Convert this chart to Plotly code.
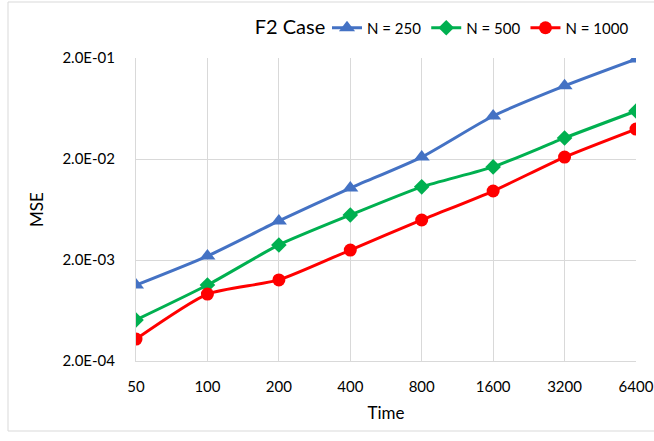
import plotly.graph_objects as go

time_labels = ['50', '100', '200', '400', '800', '1600', '3200', '6400']
mse_n250 = [1.13e-3, 2.19e-3, 4.87e-3, 1.03e-2, 2.09e-2, 5.33e-2, 1.06e-1, 1.95e-1]
mse_n500 = [5.1e-4, 1.13e-3, 2.82e-3, 5.58e-3, 1.06e-2, 1.67e-2, 3.23e-2, 5.97e-2]
mse_n1000 = [3.3e-4, 9.2e-4, 1.27e-3, 2.51e-3, 4.98e-3, 9.64e-3, 2.09e-2, 3.96e-2]
y_tick_vals = [2e-4, 2e-3, 2e-2, 2e-1]
y_tick_text = ['2.0E-04', '2.0E-03', '2.0E-02', '2.0E-01']

FONT = 'Lato, Carlito, Calibri, sans-serif'

W, H = 654, 441
L, R, T, B = 136, 18, 58, 80
PW, PH = W - L - R, H - T - B

fig = go.Figure()

series = [
    ('N = 250', mse_n250, '#4472C4', 'triangle-up', 14),
    ('N = 500', mse_n500, '#00B050', 'diamond', 12),
    ('N = 1000', mse_n1000, '#FF0000', 'circle', 13),
]
for name, vals, color, symbol, size in series:
    fig.add_trace(go.Scatter(
        x=time_labels,
        y=vals,
        name=name,
        mode='lines+markers',
        line=dict(color=color, width=3, shape='spline', smoothing=0.6),
        marker=dict(symbol=symbol, size=size, color=color),
    ))

fig.update_layout(
    width=W,
    height=H,
    margin=dict(l=L, r=R, t=T, b=B, autoexpand=False),
    paper_bgcolor='white',
    plot_bgcolor='white',
    font=dict(family=FONT, size=15, color='#000000'),
    title=dict(text='F2 Case', font=dict(size=20), x=290 / W, xref='container',
               xanchor='center', y=1 - 27 / H, yref='container', yanchor='middle'),
    legend=dict(orientation='h', x=(327 - L) / PW, xanchor='left',
                y=1 + (T - 28) / PH, yanchor='middle', font=dict(size=15),
                itemwidth=30, tracegroupgap=0, bgcolor='rgba(0,0,0,0)'),
    showlegend=True,
)

fig.update_xaxes(
    type='category',
    range=[0, 7],
    showgrid=True,
    gridcolor='#d9d9d9',
    gridwidth=1,
    showline=True,
    linecolor='#d9d9d9',
    ticks='',
    ticklabelstandoff=12,
    tickfont=dict(size=15),
    title=dict(text='Time', font=dict(size=17), standoff=13),
)

fig.update_yaxes(
    type='log',
    range=[-3.699, -0.699],
    tickvals=y_tick_vals,
    ticktext=y_tick_text,
    showgrid=True,
    gridcolor='#d9d9d9',
    gridwidth=1,
    showline=True,
    linecolor='#d9d9d9',
    zeroline=False,
    ticks='',
    ticklabelstandoff=17,
    tickfont=dict(size=15),
    title=dict(text='MSE', font=dict(size=17), standoff=14),
)

# chart area border (right edge sits just outside the picture)
fig.add_shape(type='rect', xref='paper', yref='paper',
              x0=-(L - 8) / PW, x1=1 + (R + 5) / PW, y0=-(B - 10) / PH, y1=1 + (T - 2) / PH,
              line=dict(color='#d9d9d9', width=1), fillcolor='rgba(0,0,0,0)')

fig.write_html("out.html", config={'displayModeBar': False},
               post_script="document.body.style.margin = '0';")
